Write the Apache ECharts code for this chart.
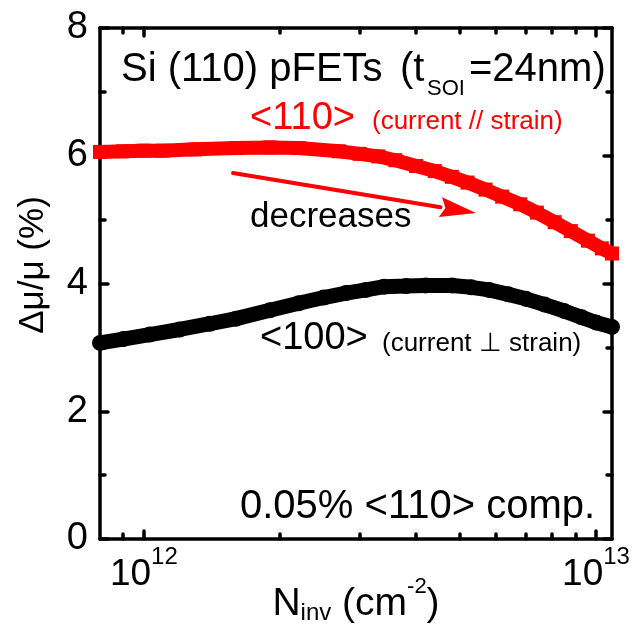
<!DOCTYPE html>
<html><head><meta charset="utf-8">
<script src="https://cdn.jsdelivr.net/npm/echarts@6/dist/echarts.min.js"></script>
<style>html,body{margin:0;padding:0;background:#fff}#c{width:632px;height:628px}</style>
</head><body><div id="c"></div>
<script>
// ---- data ----
const nRed = [8.0e11, 9e11, 1.0e12, 1.1e12, 1.3e12, 1.6e12, 1.9e12, 2.2e12, 2.7e12, 3.0e12, 3.3e12, 3.6e12, 4.0e12, 4.4e12, 4.8e12, 5.2e12, 5.7e12, 6.2e12, 6.8e12, 7.4e12, 8.1e12, 8.8e12, 9.6e12, 1.03e13, 1.085e13];
const vRed = [6.06, 6.07, 6.08, 6.08, 6.10, 6.12, 6.13, 6.12, 6.07, 6.03, 5.99, 5.93, 5.84, 5.76, 5.67, 5.58, 5.47, 5.36, 5.24, 5.11, 4.96, 4.82, 4.67, 4.55, 4.47];
const nBlack = [8.0e11, 9e11, 1.03e12, 1.2e12, 1.4e12, 1.6e12, 1.9e12, 2.2e12, 2.5e12, 2.8e12, 3.1e12, 3.4e12, 3.8e12, 4.2e12, 4.8e12, 5.3e12, 5.8e12, 6.4e12, 7.0e12, 7.7e12, 8.5e12, 9.3e12, 1.0e13, 1.085e13];
const vBlack = [3.07, 3.13, 3.20, 3.28, 3.37, 3.45, 3.58, 3.69, 3.78, 3.85, 3.90, 3.95, 3.96, 3.97, 3.97, 3.94, 3.90, 3.83, 3.76, 3.67, 3.57, 3.47, 3.39, 3.32];
const xMajorTicks = [1e12, 1e13];
const xMinorTicks = [9e11, 2e12, 3e12, 4e12, 5e12, 6e12, 7e12, 8e12, 9e12];
const xRange = [8e11, 1.085e13];
const yRange = [0, 8];
const yStep = 2;

const FONT = "'Liberation Sans', Arial, sans-serif";
const lg = Math.log10;
const chart = echarts.init(document.getElementById('c'), null, {renderer: 'canvas'});

const tickLine = {color: '#000', width: 3.5, cap: 'round'};
function makeX(pos, ticks, len, showLine, showLabel) {
  return {
    type: 'value', gridIndex: 0, position: pos, min: lg(xRange[0]), max: lg(xRange[1]),
    axisLine: {show: showLine, onZero: false, lineStyle: {color: '#000', width: 3.5}},
    axisTick: {show: true, inside: true, length: len, customValues: ticks.map(lg), lineStyle: tickLine},
    axisLabel: showLabel ? {
      show: true, margin: 6, customValues: xMajorTicks.map(lg), hideOverlap: false,
      formatter: v => '{b|10}{s|' + Math.round(v) + '}',
      rich: {
        b: {fontSize: 37, lineHeight: 60, fontFamily: FONT, color: '#000'},
        s: {fontSize: 24, lineHeight: 24, fontFamily: FONT, color: '#000', verticalAlign: 'top'}
      }
    } : {show: false},
    splitLine: {show: false}
  };
}
function makeY(pos, showLabel) {
  return {
    type: 'value', gridIndex: 0, position: pos, min: yRange[0], max: yRange[1], interval: yStep,
    axisLine: {show: true, onZero: false, lineStyle: {color: '#000', width: 3.5}},
    axisTick: {show: true, inside: true, length: 8, lineStyle: tickLine},
    minorTick: {show: true, splitNumber: 2, length: 5, lineStyle: tickLine},
    axisLabel: {show: showLabel, margin: 12, fontSize: 38, fontFamily: FONT, color: '#000'},
    splitLine: {show: false}
  };
}

const xMain = makeX('bottom', xMajorTicks, 8, true, true);
xMain.name = '{m|N}{sub|inv}{m| (cm}{sup|-2}{m|)}';
xMain.nameLocation = 'middle';
xMain.nameGap = 37;
xMain.nameMoveOverlap = false;
xMain.nameTextStyle = {
  rich: {
    m: {fontSize: 39, lineHeight: 56, fontFamily: FONT, color: '#000'},
    sub: {fontSize: 24, lineHeight: 24, padding: [0, 0, 7, 0], verticalAlign: 'bottom', fontFamily: FONT, color: '#000'},
    sup: {fontSize: 22, lineHeight: 24, verticalAlign: 'top', fontFamily: FONT, color: '#000'}
  }
};

function txt(text, x, y, size, color) {
  return {type: 'text', silent: true, style: {text, x, y, fontSize: size, fontFamily: FONT, fill: color, align: 'left', verticalAlign: 'middle'}};
}
// arrow geometry (annotation)
const a0 = [233, 173], tip = [476, 213];
const dx = tip[0] - a0[0], dy = tip[1] - a0[1], L = Math.hypot(dx, dy);
const ux = dx / L, uy = dy / L, px = -uy, py = ux;
const hl = 36, hw = 10;
const bc = [tip[0] - hl * ux, tip[1] - hl * uy];
const arrowHead = [tip, [bc[0] + hw * px, bc[1] + hw * py], [bc[0] + 5 * ux, bc[1] + 5 * uy], [bc[0] - hw * px, bc[1] - hw * py]];

chart.setOption({
  animation: false,
  backgroundColor: '#fff',
  grid: {left: 100, right: 20, top: 28, bottom: 89, containLabel: false, outerBoundsMode: 'none'},
  xAxis: [
    xMain,
    makeX('bottom', xMinorTicks, 5, false, false),
    makeX('top', xMajorTicks, 8, true, false),
    makeX('top', xMinorTicks, 5, false, false)
  ],
  yAxis: [makeY('left', true), makeY('right', false)],
  series: [
    {
      name: '<110>', type: 'line', xAxisIndex: 0, yAxisIndex: 0,
      data: nRed.map((n, i) => [lg(n), vRed[i]]),
      symbol: 'rect', symbolSize: 14, showSymbol: true,
      lineStyle: {color: '#ff0000', width: 14},
      itemStyle: {color: '#ff0000'}, z: 3
    },
    {
      name: '<100>', type: 'line', xAxisIndex: 0, yAxisIndex: 0,
      data: nBlack.map((n, i) => [lg(n), vBlack[i]]),
      symbol: 'circle', symbolSize: 16, showSymbol: true,
      lineStyle: {color: '#000', width: 15},
      itemStyle: {color: '#000'}, z: 3
    }
  ],
  graphic: [
    txt('Si (110) pFETs', 121, 69.5, 40, '#000'),
    txt('(t', 400, 69.5, 40, '#000'),
    txt('SOI', 427, 89.4, 22, '#000'),
    txt('=24nm)', 469, 69.5, 40, '#000'),
    txt('<110>', 250, 118.8, 38, '#ff0000'),
    txt('(current // strain)', 372, 122, 26, '#ff0000'),
    txt('decreases', 250, 217, 35, '#000'),
    txt('<100>', 260, 338.8, 38, '#000'),
    txt('(current \u22A5 strain)', 382, 344, 26, '#000'),
    txt('0.05% <110> comp.', 240, 506.5, 40, '#000'),
    {type: 'text', silent: true, x: 33, y: 265, rotation: Math.PI / 2,
     style: {text: '\u0394\u03BC/\u03BC (%)', x: 0, y: 0, fontSize: 35, fontFamily: FONT, fill: '#000', align: 'center', verticalAlign: 'middle'}},
    {type: 'line', silent: true, shape: {x1: a0[0], y1: a0[1], x2: bc[0], y2: bc[1]}, style: {stroke: '#ff0000', lineWidth: 4, lineCap: 'round'}},
    {type: 'polygon', silent: true, shape: {points: arrowHead}, style: {fill: '#ff0000'}}
  ]
});
</script></body></html>
